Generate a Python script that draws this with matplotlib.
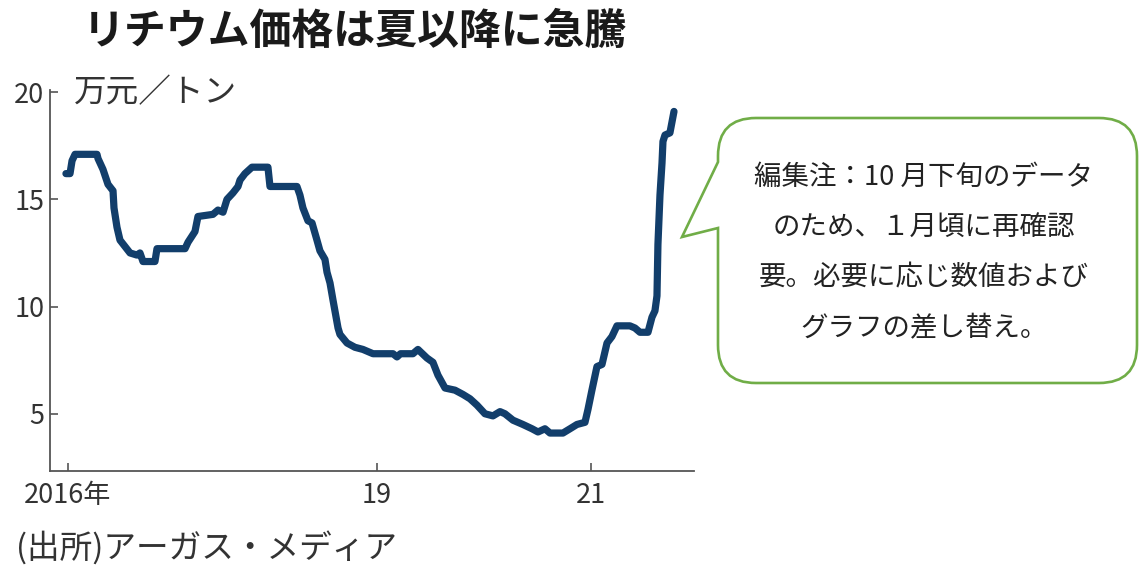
import matplotlib
matplotlib.use('Agg')
import matplotlib.pyplot as plt
from matplotlib.path import Path
from matplotlib.patches import PathPatch

plt.rcParams['font.family'] = ['Noto Sans CJK JP', 'DejaVu Sans']

# リチウム価格（万元／トン）を図から読み取り
year = [2016.093, 2016.131, 2016.150, 2016.178, 2016.383, 2016.393, 2016.439, 2016.486,
        2016.533, 2016.542, 2016.570, 2016.598, 2016.645, 2016.692, 2016.757, 2016.785,
        2016.813, 2016.925, 2016.944, 2017.206, 2017.234, 2017.299, 2017.327, 2017.467,
        2017.514, 2017.561, 2017.598, 2017.654, 2017.701, 2017.720, 2017.766, 2017.832,
        2017.981, 2018.000, 2018.252, 2018.280, 2018.308, 2018.355, 2018.393, 2018.439,
        2018.467, 2018.514, 2018.533, 2018.561, 2018.589, 2018.636, 2018.654, 2018.720,
        2018.794, 2018.869, 2018.963, 2019.150, 2019.187, 2019.220, 2019.336, 2019.383,
        2019.467, 2019.523, 2019.570, 2019.636, 2019.729, 2019.804, 2019.869, 2019.935,
        2020.009, 2020.084, 2020.150, 2020.196, 2020.271, 2020.364, 2020.449, 2020.505,
        2020.570, 2020.617, 2020.738, 2020.804, 2020.869, 2020.944, 2020.972, 2021.009,
        2021.056, 2021.103, 2021.150, 2021.196, 2021.243, 2021.364, 2021.411, 2021.458,
        2021.533, 2021.570, 2021.598, 2021.617, 2021.626, 2021.645, 2021.664, 2021.673,
        2021.692, 2021.738, 2021.757, 2021.776]
price = [16.2, 16.2, 16.8, 17.1, 17.1, 16.9, 16.4, 15.7,
         15.4, 14.6, 13.7, 13.1, 12.8, 12.5, 12.4, 12.5,
         12.1, 12.1, 12.7, 12.7, 13.0, 13.5, 14.2, 14.3,
         14.5, 14.4, 15.0, 15.3, 15.6, 15.9, 16.2, 16.5,
         16.5, 15.6, 15.6, 15.2, 14.6, 14.0, 13.9, 13.1,
         12.6, 12.2, 11.6, 11.1, 10.3, 9.0, 8.7, 8.3,
         8.1, 8.0, 7.8, 7.8, 7.65, 7.8, 7.8, 8.0,
         7.6, 7.4, 6.8, 6.2, 6.1, 5.9, 5.7, 5.4,
         5.0, 4.9, 5.1, 5.0, 4.7, 4.5, 4.3, 4.15,
         4.3, 4.1, 4.1, 4.3, 4.5, 4.6, 5.2, 6.1,
         7.2, 7.3, 8.3, 8.6, 9.1, 9.1, 9.0, 8.8,
         8.8, 9.5, 9.8, 10.5, 12.9, 15.2, 16.7, 17.7,
         18.0, 18.1, 18.6, 19.1]

xtick_pos = [2016.11, 2019, 2021]
xtick_labels = ['2016年', '19', '21']
ytick_pos = [5, 10, 15, 20]

note_lines = ['編集注：10 月下旬のデータ', 'のため、１月頃に再確認',
              '要。必要に応じ数値および', 'グラフの差し替え。']

W, H = 1144, 567
fig = plt.figure(figsize=(W / 100, H / 100), dpi=100)
ax = fig.add_axes([50 / W, 1 - 471 / H, 644 / W, 381 / H])

ax.plot(year, price, color='#123e6b', lw=5.2, solid_joinstyle='round', solid_capstyle='round')

ax.set_xlim(2015.944, 2021.963)
ax.set_ylim(2.33, 20.1)
ax.set_xticks(xtick_pos)
ax.set_xticklabels(xtick_labels)
ax.set_yticks(ytick_pos)
ax.set_yticklabels([str(v) for v in ytick_pos])
for s in ['top', 'right']:
    ax.spines[s].set_visible(False)
for s in ['left', 'bottom']:
    ax.spines[s].set_color('#555555')
    ax.spines[s].set_linewidth(1.3)
ax.tick_params(axis='both', direction='in', length=6, width=1.2, color='#555555',
               labelsize=19.5, labelcolor='#333333')
ax.tick_params(axis='y', pad=4)
ax.tick_params(axis='x', pad=8)

# タイトル・単位・出所
fig.text(355 / W, 1 - 32 / H, 'リチウム価格は夏以降に急騰', ha='center', va='center',
         fontsize=30.2, fontweight='bold', color='#1a1a1a')
fig.text(74 / W, 1 - 93 / H, '万元／トン', ha='left', va='center', fontsize=23.5, color='#333333')
fig.text(16 / W, 1 - 548 / H, '(出所)アーガス・メディア', ha='left', va='center',
         fontsize=23.5, color='#333333')

# 吹き出し
L, R, T, B, r = 718, 1137, 118, 383, 38
pts = [(L + r, T), (R - r, T), (R, T), (R, T + r), (R, B - r), (R, B), (R - r, B),
       (L + r, B), (L, B), (L, B - r), (L, 228), (682, 237), (L, 162), (L, T + r),
       (L, T), (L + r, T), (L + r, T)]
codes = [Path.MOVETO, Path.LINETO, Path.CURVE3, Path.CURVE3, Path.LINETO, Path.CURVE3,
         Path.CURVE3, Path.LINETO, Path.CURVE3, Path.CURVE3, Path.LINETO, Path.LINETO,
         Path.LINETO, Path.LINETO, Path.CURVE3, Path.CURVE3, Path.CLOSEPOLY]
verts = [(x / W, 1 - y / H) for x, y in pts]
fig.patches.append(PathPatch(Path(verts, codes), transform=fig.transFigure,
                             facecolor='white', edgecolor='#70ad47', lw=1.9, joinstyle='miter'))

for i, line in enumerate(note_lines):
    fig.text(924 / W, 1 - (177 + 50.5 * i) / H, line, ha='center', va='center',
             fontsize=19.8, color='#222222')

fig.savefig('out.png', dpi=100)
